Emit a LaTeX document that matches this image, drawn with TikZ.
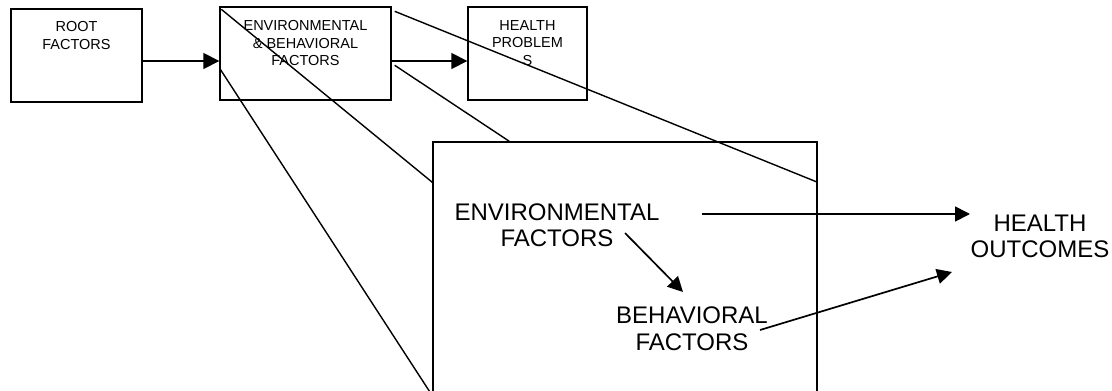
\documentclass[tikz,border=0pt]{standalone}
\usepackage{fontspec}
\setmainfont{Liberation Sans}
\usetikzlibrary{arrows.meta,calc}
\begin{document}
\begin{tikzpicture}[x=1pt,y=-1pt,
  box/.style={draw,line width=1.4pt,inner sep=0pt,rectangle},
  smalltxt/.style={align=center,inner sep=0pt,anchor=north,font=\fontsize{14.5}{17.5}\selectfont},
  bigtxt/.style={align=center,inner sep=0pt,font=\fontsize{24}{26.5}\selectfont},
  arr/.style={line width=1.7pt,-{Triangle[length=16pt,width=16pt]}},
  ln/.style={line width=1.4pt}]
\useasboundingbox (0,0) rectangle (1112,391);
\clip (0,0) rectangle (1112,391);
% boxes
\node[box,minimum width=131pt,minimum height=93pt] (root) at (76.5,55.5) {};
\node[box,minimum width=171pt,minimum height=93pt] (env) at (305.5,53.5) {};
\node[box,minimum width=119pt,minimum height=93pt] (hp) at (527.5,53.5) {};
\node[box,minimum width=384pt,minimum height=253pt] (big) at (625,268.5) {};
% box texts
\node[smalltxt] (roott) at ($(root.north)+(0,13)$) {ROOT\\FACTORS};
\node[smalltxt] (envt) at ($(env.north)+(0,14)$) {ENVIRONMENTAL\\\&~BEHAVIORAL\\FACTORS};
\node[smalltxt] (hpt) at ($(hp.north)+(0,14)$) {HEALTH\\PROBLEM\\S};
% arrows between small boxes
\coordinate (ar) at (0,61);
\draw[arr] (root.east |- ar) -- (env.west |- ar);
\draw[arr] (env.east |- ar) -- (hp.west |- ar);
% zoom lines
\draw[ln] ($(env.north west)+(2,3)$) -- ($(big.north west)+(0,41)$);
\draw[ln] ($(env.north west)+(1,63)$) -- (big.south west);
\draw[ln] ($(env.north east)+(3,5)$) -- ($(big.north east)+(0,41)$);
\draw[ln] ($(env.north east)+(3,59)$) -- ($(big.north west)+(77,0)$);
% inner texts
\node[bigtxt] (ef) at (557,225) {ENVIRONMENTAL\\FACTORS};
\node[bigtxt] (bf) at (692,328.5) {BEHAVIORAL\\FACTORS};
\node[bigtxt] (ho) at (1040,236.5) {HEALTH\\OUTCOMES};
% inner arrows
\coordinate (a1s) at (702,214);
\coordinate (a1e) at (970,214);
\coordinate (a2s) at (625,233);
\coordinate (a2e) at (683,292);
\coordinate (a3s) at (760,330);
\coordinate (a3e) at (952,272);
\draw[arr,-{Triangle[length=15pt,width=15pt]}] (a1s) -- (a1e);
\draw[arr,-{Triangle[length=15pt,width=15pt]}] (a2s) -- (a2e);
\draw[arr,-{Triangle[length=15pt,width=15pt]}] (a3s) -- (a3e);
\end{tikzpicture}
\end{document}
